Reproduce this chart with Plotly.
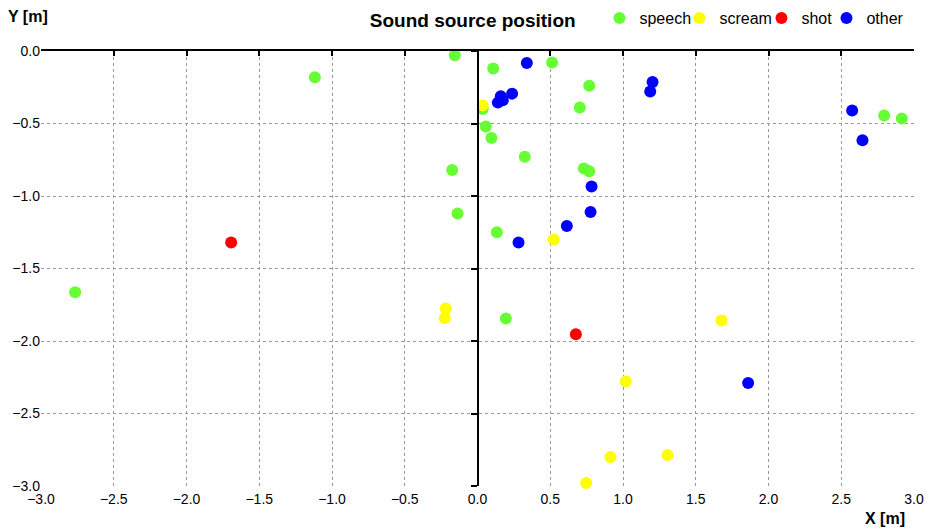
"""
scatter of sound source positions by class
"""
import plotly.graph_objects as go

# speech
speech_x = [-0.156, -1.118, 0.108, 0.513, 0.768, 0.703, 0.036, 0.057, 0.096, 0.325,
            -0.174, 0.731, 0.768, -0.137, 0.133, -2.765, 0.195, 2.795, 2.916]
speech_y = [-0.03, -0.181, -0.12, -0.08, -0.24, -0.39, -0.40, -0.52, -0.60, -0.73,
            -0.82, -0.81, -0.83, -1.12, -1.25, -1.663, -1.845, -0.445, -0.466]

# scream
scream_x = [0.036, 0.524, -0.218, -0.225, 1.677, 1.019, 0.914, 1.306, 0.747]
scream_y = [-0.376, -1.30, -1.776, -1.842, -1.858, -2.28, -2.80, -2.787, -2.98]

# shot
shot_x = [-1.693, 0.676]
shot_y = [-1.321, -1.954]

# other
other_x = [0.339, 0.238, 0.160, 0.174, 0.140, 1.203, 1.187, 0.784, 0.777, 0.614,
           0.282, 1.86, 2.575, 2.646]
other_y = [-0.083, -0.294, -0.312, -0.339, -0.356, -0.213, -0.28, -0.934, -1.11, -1.207,
           -1.32, -2.29, -0.41, -0.615]

# name, x, y, colour, legend entry width
series = [("speech", speech_x, speech_y, "#66ff33", 35),
          ("scream", scream_x, scream_y, "#ffff00", 37),
          ("shot", shot_x, shot_y, "#ff0000", 20),
          ("other", other_x, other_y, "#0000ff", 36)]

FONT = "Liberation Sans, Arial"

fig = go.Figure()
# empty trace so the black origin axes (x2/y2) get drawn
fig.add_trace(go.Scatter(x=[], y=[], xaxis="x2", yaxis="y2", showlegend=False,
                         hoverinfo="skip"))
for name, xs, ys, col, lw in series:
    fig.add_trace(go.Scatter(x=xs, y=ys, mode="markers", name=name,
                             marker=dict(color=col, size=12),
                             legendwidth=lw, cliponaxis=False))

grid = dict(showgrid=True, gridcolor="#9a9a9a", griddash="dot", gridwidth=1,
            zeroline=False, showline=False, ticks="", automargin=False,
            tickfont=dict(size=14, color="black", family=FONT))

# the page body adds an 8px offset, margins below allow for it
fig.update_layout(
    width=935, height=529,
    margin=dict(l=33, r=29, t=43, b=51, autoexpand=False),
    plot_bgcolor="white", paper_bgcolor="white",
    font=dict(family=FONT, color="black"),
    title=dict(text="<b>Sound source position</b>", x=0.497, xanchor="center",
               y=0.977, yanchor="middle", font=dict(size=19)),
    legend=dict(orientation="h", x=0.962, xanchor="right", xref="container",
                y=0.981, yanchor="middle", yref="container",
                font=dict(size=16), itemwidth=30, tracegroupgap=0),
    xaxis=dict(range=[-3, 3], dtick=0.5, tickformat=".1f", ticklabelstandoff=3, **grid),
    yaxis=dict(range=[-3, 0], dtick=0.5, tickformat=".1f", **grid),
    # black axis through the origin, drawn along the top edge
    xaxis2=dict(range=[-3, 3], dtick=0.5, overlaying="x", side="top", anchor="y",
                showline=True, linecolor="black", linewidth=2, ticks="inside",
                ticklen=5, tickwidth=2, tickcolor="black", automargin=False,
                showticklabels=False, showgrid=False, zeroline=False),
    yaxis2=dict(range=[-3, 0], dtick=0.5, overlaying="y", anchor="free", position=0.5,
                showline=True, linecolor="black", linewidth=2, ticks="outside",
                ticklen=6, tickwidth=2, tickcolor="black", automargin=False,
                showticklabels=False, showgrid=False, zeroline=False),
    annotations=[
        dict(text="<b>Y [m]</b>", xref="paper", yref="paper", x=-0.04, y=1.0,
             xanchor="left", yanchor="bottom", yshift=24, showarrow=False,
             font=dict(size=16)),
        dict(text="<b>X [m]</b>", xref="paper", yref="paper", x=1.0, y=0,
             xanchor="center", yanchor="top", xshift=-29, yshift=-22, showarrow=False,
             font=dict(size=16)),
    ],
)

fig.write_html("out.html")
